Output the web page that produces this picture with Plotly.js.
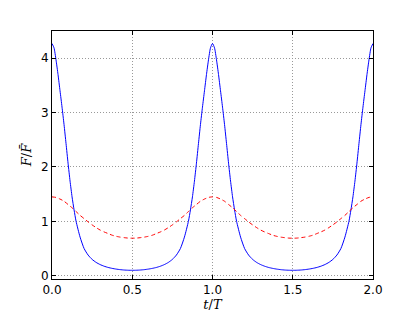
<!DOCTYPE html>
<html>
<head>
<meta charset="utf-8">
<script src="https://cdn.plot.ly/plotly-3.0.1.min.js"></script>
<style>html,body{margin:0;padding:0;background:#fff;}#chart{width:415px;height:312px;}</style>
</head>
<body>
<div id="chart"></div>
<script>
// Blue (solid) curve: t/T and F/Fbar values
const blueT = [
  0,0.0125,0.025,0.0375,0.05,0.0625,0.075,0.0875,0.1,0.1125,0.125,0.1375,0.15,0.175,0.2,0.225,0.25,0.275,0.3,0.325,0.35,0.375,0.4,0.425,0.45,0.475,0.5,
  0.525,0.55,0.575,0.6,0.625,0.65,0.675,0.7,0.725,0.75,0.775,0.8,0.825,0.85,0.8625,0.875,0.8875,0.9,0.9125,0.925,0.9375,0.95,0.9625,0.975,0.9875,1.0,
  1.0125,1.025,1.0375,1.05,1.0625,1.075,1.0875,1.1,1.1125,1.125,1.1375,1.15,1.175,1.2,1.225,1.25,1.275,1.3,1.325,1.35,1.375,1.4,1.425,1.45,1.475,1.5,
  1.525,1.55,1.575,1.6,1.625,1.65,1.675,1.7,1.725,1.75,1.775,1.8,1.825,1.85,1.8625,1.875,1.8875,1.9,1.9125,1.925,1.9375,1.95,1.9625,1.975,1.9875,2.0
];
const blueF = [
  4.27,4.19,3.97,3.70,3.40,3.10,2.78,2.43,2.07,1.74,1.45,1.21,1.00,0.71,0.50,0.38,0.30,0.245,0.205,0.175,0.152,0.135,0.122,0.112,0.105,0.101,0.100,
  0.101,0.105,0.112,0.122,0.135,0.152,0.175,0.205,0.245,0.30,0.38,0.50,0.71,1.00,1.21,1.45,1.74,2.07,2.43,2.78,3.10,3.40,3.70,3.97,4.19,4.27,
  4.19,3.97,3.70,3.40,3.10,2.78,2.43,2.07,1.74,1.45,1.21,1.00,0.71,0.50,0.38,0.30,0.245,0.205,0.175,0.152,0.135,0.122,0.112,0.105,0.101,0.100,
  0.101,0.105,0.112,0.122,0.135,0.152,0.175,0.205,0.245,0.30,0.38,0.50,0.71,1.00,1.21,1.45,1.74,2.07,2.43,2.78,3.10,3.40,3.70,3.97,4.19,4.27
];
// Red (dashed) curve
const redT = [
  0,0.025,0.05,0.075,0.1,0.125,0.15,0.175,0.2,0.225,0.25,0.275,0.3,0.325,0.35,0.375,0.4,0.425,0.45,0.475,0.5,
  0.525,0.55,0.575,0.6,0.625,0.65,0.675,0.7,0.725,0.75,0.775,0.8,0.825,0.85,0.875,0.9,0.925,0.95,0.975,1.0,
  1.025,1.05,1.075,1.1,1.125,1.15,1.175,1.2,1.225,1.25,1.275,1.3,1.325,1.35,1.375,1.4,1.425,1.45,1.475,1.5,
  1.525,1.55,1.575,1.6,1.625,1.65,1.675,1.7,1.725,1.75,1.775,1.8,1.825,1.85,1.875,1.9,1.925,1.95,1.975,2.0
];
const redF = [
  1.45,1.44,1.41,1.37,1.31,1.25,1.18,1.11,1.05,0.99,0.935,0.885,0.84,0.805,0.775,0.745,0.725,0.71,0.70,0.692,0.69,
  0.692,0.70,0.71,0.725,0.745,0.775,0.805,0.84,0.885,0.935,0.99,1.05,1.11,1.18,1.25,1.31,1.37,1.41,1.44,1.45,
  1.44,1.41,1.37,1.31,1.25,1.18,1.11,1.05,0.99,0.935,0.885,0.84,0.805,0.775,0.745,0.725,0.71,0.70,0.692,0.69,
  0.692,0.70,0.71,0.725,0.745,0.775,0.805,0.84,0.885,0.935,0.99,1.05,1.11,1.18,1.25,1.31,1.37,1.41,1.44,1.45
];
const xTicks = [0, 0.5, 1.0, 1.5, 2.0];
const xTickText = ['0.0', '0.5', '1.0', '1.5', '2.0'];
const yTicks = [0, 1, 2, 3, 4];
const yTickText = ['0', '1', '2', '3', '4'];

const traces = [
  {x: blueT, y: blueF, type: 'scatter', mode: 'lines', line: {color: '#0000ff', width: 1, shape: 'spline', smoothing: 0.6}, hoverinfo: 'skip'},
  {x: redT, y: redF, type: 'scatter', mode: 'lines', line: {color: '#ff0000', width: 1, dash: '4px,3px', shape: 'spline', smoothing: 0.6}, hoverinfo: 'skip'}
];
const axisCommon = {
  showline: true, linecolor: '#000', linewidth: 1, mirror: 'ticks',
  ticks: 'inside', ticklen: 4, tickcolor: '#000', tickwidth: 1,
  showgrid: true, gridcolor: '#999', griddash: '1px,2px', gridwidth: 1,
  zeroline: false,
  tickfont: {family: 'DejaVu Sans', size: 12, color: '#000'}
};
const layout = {
  width: 415, height: 312,
  margin: {l: 52, r: 42, t: 31, b: 33},
  paper_bgcolor: '#fff', plot_bgcolor: '#fff',
  showlegend: false,
  xaxis: Object.assign({}, axisCommon, {
    range: [0, 2], tickvals: xTicks, ticktext: xTickText,
    title: {text: '<i>t</i>/<i>T</i>', font: {family: 'DejaVu Serif', size: 13, color: '#000'}, standoff: 2}
  }),
  yaxis: Object.assign({}, axisCommon, {
    range: [-0.06, 4.5], tickvals: yTicks, ticktext: yTickText,
    title: {text: '<i>F</i>/<i>F\u0304</i>', font: {family: 'DejaVu Serif', size: 13, color: '#000'}, standoff: 6}
  })
};
Plotly.newPlot('chart', traces, layout, {staticPlot: true, displayModeBar: false});
</script>
</body>
</html>
